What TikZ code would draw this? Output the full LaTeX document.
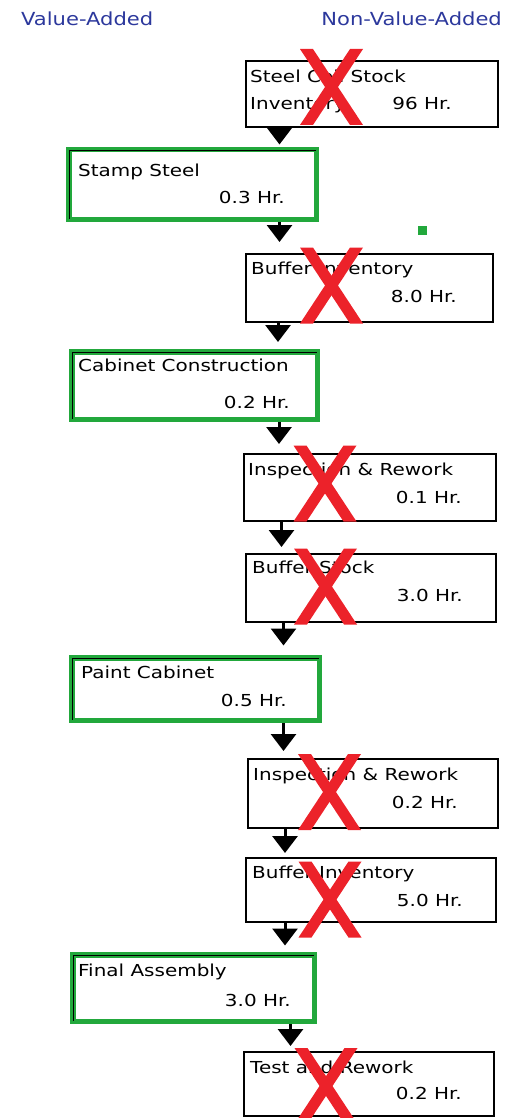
\documentclass[tikz,border=0pt]{standalone}
\usepackage{fontspec}
\usetikzlibrary{arrows.meta}
\newfontfamily\boxfont{DejaVu Sans}[FakeStretch=1.21]
\newfontfamily\headfont{DejaVu Sans}[FakeStretch=1.17]
\definecolor{vagreen}{RGB}{34,168,60}
\definecolor{xred}{RGB}{236,34,42}
\definecolor{headblue}{RGB}{44,56,156}

\begin{document}
\begin{tikzpicture}[x=1pt,y=-1pt,
  nva/.style={draw=black, line width=2pt, rectangle, inner sep=0pt},
  va/.style={draw=vagreen, line width=5.5pt, rectangle, inner sep=0pt},
  innerline/.style={draw=black, line width=1.5pt},
  lbl/.style={inner sep=0pt, font=\boxfont\fontsize{16.5}{19}\selectfont, anchor=base west},
  val/.style={inner sep=0pt, font=\boxfont\fontsize{16.5}{19}\selectfont, anchor=base east},
  head/.style={inner sep=0pt, text=headblue, font=\headfont\fontsize{18}{21}\selectfont},
  flow/.style={line width=3pt, -{Triangle[width=25pt,length=17pt]}},
  redx/.pic={
    \fill[xred] (-31.5,-38) -- (-18.5,-38) -- (31.5,38) -- (18.5,38) -- cycle;
    \fill[xred] (18.5,-38) -- (31.5,-38) -- (-18.5,38) -- (-31.5,38) -- cycle;
  }
]
\useasboundingbox (0,0) rectangle (514,1118);

% column headings
\node[head, anchor=base west] (hva) at (21,26) {Value-Added};
\node[head, anchor=base east] (hnva) at (502,26) {Non-Value-Added};

% process steps
\node[nva, minimum width=252pt, minimum height=66pt] (b1) at (372,94) {};
\node[va, minimum width=247.5pt, minimum height=69.5pt] (b2) at (192.5,184.5) {};
\node[nva, minimum width=247pt, minimum height=68pt] (b3) at (369.5,288) {};
\node[va, minimum width=245.5pt, minimum height=67.5pt] (b4) at (194.5,385.5) {};
\node[nva, minimum width=252pt, minimum height=67pt] (b5) at (370,487.5) {};
\node[nva, minimum width=250pt, minimum height=68pt] (b6) at (371,588) {};
\node[va, minimum width=247.5pt, minimum height=62.5pt] (b7) at (195.5,689) {};
\node[nva, minimum width=250pt, minimum height=69pt] (b8) at (373,793.5) {};
\node[nva, minimum width=250pt, minimum height=64pt] (b9) at (371,890) {};
\node[va, minimum width=241.5pt, minimum height=66.5pt] (b10) at (193.5,988) {};
\node[nva, minimum width=250pt, minimum height=64pt] (b11) at (369,1084) {};

% dark inner edge of the value-added boxes
\foreach \b in {b2,b4,b7,b10}
  \draw[innerline] ([shift={(3.5,-3.5)}]\b.south west) |- ([shift={(-3.5,3.5)}]\b.north east);

% step texts
\node[lbl] (t1a) at (250,83) {Steel Coil Stock};
\node[lbl] (t1b) at (250,110) {Inventory};
\node[val] (v1) at (452,110) {96 Hr.};
\node[lbl] (t2) at (78,177) {Stamp Steel};
\node[val] (v2) at (285,204) {0.3 Hr.};
\node[lbl] (t3) at (251,274) {Buffer Inventory};
\node[val] (v3) at (457,302) {8.0 Hr.};
\node[lbl] (t4) at (78,371) {Cabinet Construction};
\node[val] (v4) at (290,408) {0.2 Hr.};
\node[lbl] (t5) at (248,475) {Inspection \& Rework};
\node[val] (v5) at (462,503) {0.1 Hr.};
\node[lbl] (t6) at (252,573) {Buffer Stock};
\node[val] (v6) at (463,601) {3.0 Hr.};
\node[lbl] (t7) at (81,678) {Paint Cabinet};
\node[val] (v7) at (287,706) {0.5 Hr.};
\node[lbl] (t8) at (253,780) {Inspection \& Rework};
\node[val] (v8) at (458,808) {0.2 Hr.};
\node[lbl] (t9) at (252,878) {Buffer Inventory};
\node[val] (v9) at (463,906) {5.0 Hr.};
\node[lbl] (t10) at (78,976) {Final Assembly};
\node[val] (v10) at (291,1006) {3.0 Hr.};
\node[lbl] (t11) at (250,1073) {Test and Rework};
\node[val] (v11) at (462,1099) {0.2 Hr.};

% small marker
\node[fill=vagreen, minimum size=9pt, inner sep=0pt] (mark) at (422.5,230.5) {};

% flow arrows
\coordinate (a1) at (279.5,0);
\coordinate (a2) at (279.5,0);
\coordinate (a3) at (278,0);
\coordinate (a4) at (279,0);
\coordinate (a5) at (281.5,0);
\coordinate (a6) at (283.5,0);
\coordinate (a7) at (283.5,0);
\coordinate (a8) at (285,0);
\coordinate (a9) at (285,0);
\coordinate (a10) at (290.5,0);
\draw[flow, shorten >=2.5pt] (b1.south -| a1) -- (b2.north -| a1);
\draw[flow, shorten >=11pt] (b2.south -| a2) -- (b3.north -| a2);
\draw[flow, shorten >=7pt] (b3.south -| a3) -- (b4.north -| a3);
\draw[flow, shorten >=9pt] (b4.south -| a4) -- (b5.north -| a4);
\draw[flow, shorten >=6pt] (b5.south -| a5) -- (b6.north -| a5);
\draw[flow, shorten >=9.5pt] (b6.south -| a6) -- (b7.north -| a6);
\draw[flow, shorten >=7pt] (b7.south -| a7) -- (b8.north -| a7);
\draw[flow, shorten >=4pt] (b8.south -| a8) -- (b9.north -| a8);
\draw[flow, shorten >=6.5pt] (b9.south -| a9) -- (b10.north -| a9);
\draw[flow, shorten >=5pt] (b10.south -| a10) -- (b11.north -| a10);

% crossed-out non-value-added steps
\pic at (331.5,87) {redx};
\pic at (331.5,285.5) {redx};
\pic at (325,483.5) {redx};
\pic at (325.5,586.5) {redx};
\pic at (329.5,792) {redx};
\pic at (330,899.5) {redx};
\pic at (326,1086) {redx};
\end{tikzpicture}
\end{document}
